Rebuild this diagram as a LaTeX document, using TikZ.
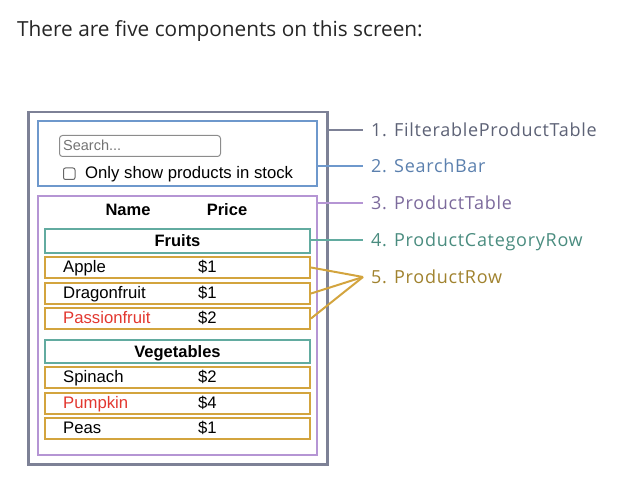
\documentclass[tikz,border=0pt]{standalone}
\usepackage{fontspec}
\setmainfont{Liberation Sans}
\newfontfamily\labelfont[LetterSpace=4]{Open Sans}
\newfontfamily\titlefont{Open Sans}
\usetikzlibrary{positioning}

\definecolor{fptcol}{HTML}{7D8196}
\definecolor{fpttxt}{HTML}{5D6276}
\definecolor{sbcol}{HTML}{6E98CC}
\definecolor{sbtxt}{HTML}{5B80AE}
\definecolor{ptcol}{HTML}{B595D4}
\definecolor{pttxt}{HTML}{7C6A9C}
\definecolor{catcol}{HTML}{62ABA0}
\definecolor{cattxt}{HTML}{4A8C7F}
\definecolor{rowcol}{HTML}{D3A43E}
\definecolor{rowtxt}{HTML}{A0822E}
\definecolor{outstock}{HTML}{E2372F}

\tikzset{
  box/.style={draw, line width=2pt, inner sep=0pt, anchor=north west},
  rowbox/.style={box, rowcol, minimum width=265pt, minimum height=21pt},
  catbox/.style={box, catcol, minimum width=265pt, minimum height=24pt},
  cell/.style={inner sep=0pt, anchor=west, font=\fontsize{16.7}{19}\selectfont, text height=11.6pt, text depth=0pt},
  headcell/.style={cell, anchor=center, font=\bfseries\fontsize{16.5}{19}\selectfont},
  tag/.style={inner sep=0pt, anchor=west, font=\labelfont\fontsize{18}{21}\selectfont, text height=12.8pt, text depth=0pt},
  link/.style={line width=2pt}
}

\begin{document}
\begin{tikzpicture}[x=1pt, y=-1pt]
    \useasboundingbox (0,0) rectangle (643,484);

    % Heading
    \node[inner sep=0pt, anchor=base west, font=\titlefont\fontsize{20.8}{25}\selectfont, text=black!85]
        (title) at (17,37) {There are five components on this screen:};

    % Component boxes
    \node[box, fptcol, line width=2.5pt, minimum width=299pt, minimum height=352pt] (fpt) at (27,111) {};
    \node[box, sbcol, minimum width=279pt, minimum height=65pt] (searchbar) at (37,120) {};
    \node[box, ptcol, minimum width=279pt, minimum height=259pt] (prodtable) at (37,195) {};

    % Search bar contents
    \node[draw=black!45, line width=1pt, rounded corners=3pt, anchor=north west, minimum width=161pt, minimum height=21pt] (search) at (59,135) {};
    \node[inner sep=0pt, anchor=west, font=\fontsize{14.5}{17}\selectfont, text=black!55, text height=10.4pt, text depth=0pt] (placeholder) at (63,145.5) {Search...};
    \node[draw=black!60, line width=1pt, rounded corners=2pt, anchor=north west, minimum size=11.5pt, inner sep=0pt] (checkbox) at (63,167.5) {};
    \node[cell] (stocktext) at (85,173) {Only show products in stock};

    % Table header
    \node[headcell] (hname) at (128,210) {Name};
    \node[headcell] (hprice) at (227,210) {Price};

    % Category rows
    \node[catbox] (catFruits) at (44,228) {};
    \node[headcell] at (catFruits.center) {Fruits};
    \node[catbox, minimum height=23pt] (catVeg) at (44,339) {};
    \node[headcell] at (catVeg.center) {Vegetables};

    % Product rows
    \foreach \id/\y/\name/\price/\col in {Apple/256/Apple/1/black, Dragon/282/Dragonfruit/1/black,
        Passion/307/Passionfruit/2/outstock, Spinach/366/Spinach/2/black,
        Pumpkin/392/Pumpkin/4/outstock, Peas/417/Peas/1/black} {
        \node[rowbox] (row\id) at (44,\y) {};
        \node[cell, text=\col] (name\id) at (63,\y+10.5) {\name};
        \node[cell] (price\id) at (198,\y+10.5) {\$\price};
    }

    % Labels
    \node[tag, text=fpttxt] (lab1) at (371,130) {1. FilterableProductTable};
    \node[tag, text=sbtxt] (lab2) at (371,166) {2. SearchBar};
    \node[tag, text=pttxt] (lab3) at (371,203) {3. ProductTable};
    \node[tag, text=cattxt] (lab4) at (371,240) {4. ProductCategoryRow};
    \node[tag, text=rowtxt] (lab5) at (371,277) {5. ProductRow};

    % Connectors
    \draw[link, fptcol] (fpt.east |- lab1.west) -- ([xshift=-8pt]lab1.west);
    \draw[link, sbcol] (searchbar.east |- lab2.west) -- ([xshift=-8pt]lab2.west);
    \draw[link, ptcol] (prodtable.east |- lab3.west) -- ([xshift=-8pt]lab3.west);
    \draw[link, catcol] (catFruits.east |- lab4.west) -- ([xshift=-8pt]lab4.west);
    \coordinate (rowjoin) at ([xshift=-8pt]lab5.west);
    \foreach \id in {Apple, Dragon, Passion}
        \draw[link, rowcol] (row\id.east) -- (rowjoin);
\end{tikzpicture}
\end{document}
